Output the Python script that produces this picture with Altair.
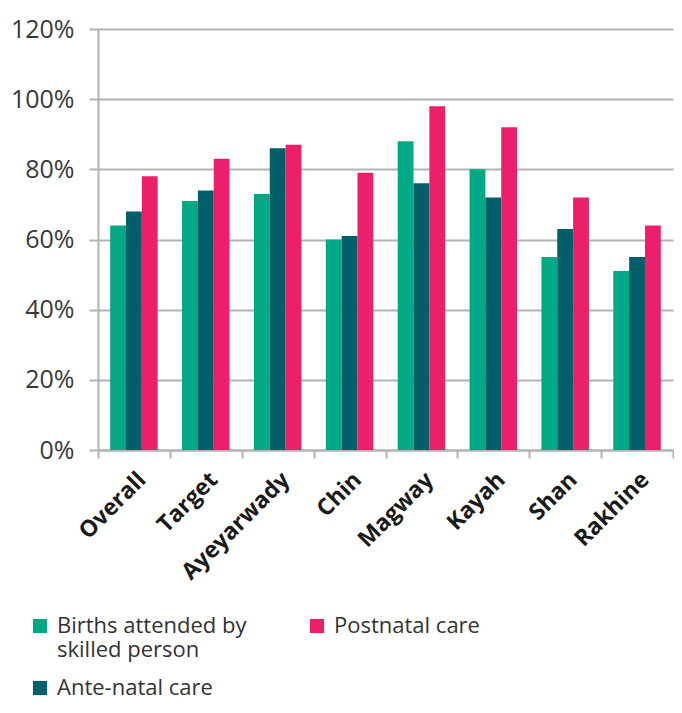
import altair as alt
import pandas as pd

regions = ["Overall", "Target", "Ayeyarwady", "Chin", "Magway", "Kayah", "Shan", "Rakhine"]
births = [64, 71, 73, 60, 88, 80, 55, 51]
antenatal = [68, 74, 86, 61, 76, 72, 63, 55]
postnatal = [78, 83, 87, 79, 98, 92, 72, 64]

series_names = ["Births attended by skilled person", "Ante-natal care", "Postnatal care"]
series_colors = ["#00a884", "#005f6b", "#ec1f6a"]

rows = []
for name, vals in zip(series_names, [births, antenatal, postnatal]):
    for r, v in zip(regions, vals):
        rows.append({"region": r, "series": name, "value": v})
df = pd.DataFrame(rows)

grid_color = "#b3b3b5"
font = "Open Sans"

label_expr = (
    "datum.label == 'Births attended by skilled person' ? ['Births attended by', 'skilled person'] : "
    "(datum.label == 'Postnatal care' ? ['Postnatal care', ''] : datum.label)"
)

chart = alt.Chart(df).mark_bar().encode(
    x=alt.X("region:N", sort=regions, title=None,
            scale=alt.Scale(paddingInner=0, paddingOuter=0),
            axis=alt.Axis(labelAngle=-45, labelFont=font, labelFontWeight="bold",
                          labelFontSize=23, labelColor="#1a1a1a", tickBand="extent",
                          tickSize=8, tickColor=grid_color, tickWidth=2,
                          domainColor=grid_color, domainWidth=2, labelPadding=10,
                          labelLimit=300)),
    xOffset=alt.XOffset("series:N", sort=series_names,
                        scale=alt.Scale(paddingInner=0, paddingOuter=0.77)),
    y=alt.Y("value:Q", title=None,
            scale=alt.Scale(domain=[0, 120], nice=False),
            axis=alt.Axis(values=[0, 20, 40, 60, 80, 100, 120], labelExpr="datum.value + '%'",
                          labelFont=font, labelFontSize=25, labelColor="#3a3a3a",
                          tickSize=9, tickColor=grid_color, tickWidth=2,
                          domainColor=grid_color, domainWidth=2, gridColor=grid_color,
                          gridWidth=2, labelPadding=15)),
    color=alt.Color("series:N",
                    scale=alt.Scale(domain=series_names, range=series_colors),
                    legend=alt.Legend(title=None, orient="none", legendX=-69, legendY=586,
                                      columns=2, columnPadding=59, rowPadding=16,
                                      symbolType="square", symbolSize=200,
                                      symbolStrokeWidth=0, labelFont=font,
                                      labelFontSize=22, labelColor="#333333",
                                      labelLimit=400, labelBaseline="middle",
                                      labelOffset=6, labelExpr=label_expr)),
).properties(
    width=575, height=421,
    padding={"left": 2, "top": 9, "right": 0, "bottom": 0},
).configure_view(stroke=None)

chart.save("out.html", embed_options={"renderer": "svg", "actions": False})
